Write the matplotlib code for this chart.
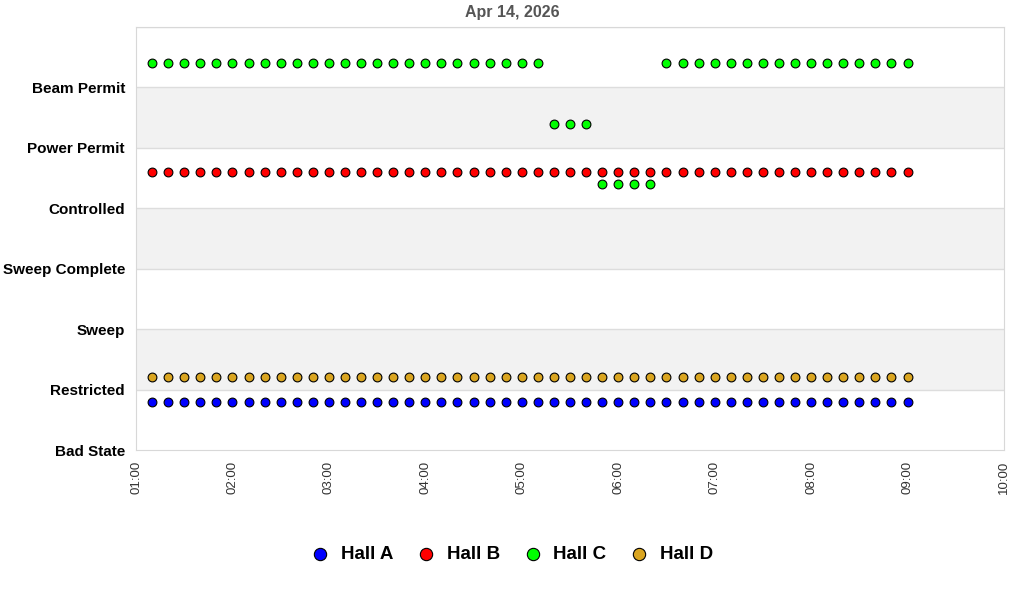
import matplotlib
matplotlib.use("Agg")
import matplotlib.pyplot as plt
import matplotlib.dates as mdates
import pandas as pd

plt.rcParams['font.family'] = ['Liberation Sans', 'DejaVu Sans']

# state categories, bottom to top
states = ["Bad State", "Restricted", "Sweep", "Sweep Complete",
          "Controlled", "Power Permit", "Beam Permit"]

# samples every 10 minutes
times = pd.date_range("2026-04-14 01:10", "2026-04-14 09:00", freq="10min")

# (state, number of consecutive samples)
hall_a_runs = [("Restricted", 48)]
hall_b_runs = [("Power Permit", 48)]
hall_c_runs = [("Beam Permit", 25), ("Power Permit", 3),
               ("Controlled", 4), ("Beam Permit", 16)]
hall_d_runs = [("Restricted", 48)]

halls = ["Hall A", "Hall B", "Hall C", "Hall D"]
colors = ["#0000ff", "#ff0000", "#00ff00", "#daa520"]
offsets = [-0.2, -0.4, 0.4, 0.2]  # small vertical shift so halls don't overlap


def expand(runs):
    out = []
    for st, n in runs:
        out += [states.index(st)] * n
    return out


fig = plt.figure(figsize=(10.24, 6), dpi=100)
ax = fig.add_axes([136/1024, 1-450/600, (1004-136)/1024, (450-27)/600])

# alternating bands
for i in range(len(states)):
    if i % 2 == 1:
        ax.axhspan(i, i+1, color="#f2f2f2", zorder=0, lw=0)
for i in range(1, len(states)+1):
    ax.axhline(i, color="#dddddd", lw=1, zorder=1)

for name, runs, c, off in zip(halls, [hall_a_runs, hall_b_runs, hall_c_runs, hall_d_runs], colors, offsets):
    y = [v + off for v in expand(runs)]
    ax.scatter(times, y, s=40, c=c, edgecolors="black", linewidths=0.8,
               zorder=3, label=name)

ax.set_ylim(0, 7)
ax.set_yticks(range(len(states)))
ax.set_yticklabels(states, fontsize=11, fontweight="bold")
ax.set_xlim(pd.Timestamp("2026-04-14 01:00"), pd.Timestamp("2026-04-14 10:00"))
ax.xaxis.set_major_locator(mdates.HourLocator())
ax.xaxis.set_major_formatter(mdates.DateFormatter("%H:%M"))
for lbl in ax.get_xticklabels():
    lbl.set_rotation(90)
    lbl.set_fontsize(9.5)
    lbl.set_color("#333333")
ax.tick_params(length=0, pad=8)
ax.tick_params(axis="y", pad=8)
for sp in ax.spines.values():
    sp.set_color("#d8d8d8")

fig.text(0.5, 1-13/600, "Apr 14, 2026", ha="center", va="center",
         fontsize=11.5, fontweight="bold", color="#555555")

fig.legend(loc="center", bbox_to_anchor=(0.5, 1-554/600), ncol=4, frameon=False,
           prop={"weight": "bold", "size": 13.5}, handlelength=1.0,
           handletextpad=0.6, columnspacing=1.25, markerscale=1.4,
           scatterpoints=1)

fig.savefig("out.png", dpi=100)
